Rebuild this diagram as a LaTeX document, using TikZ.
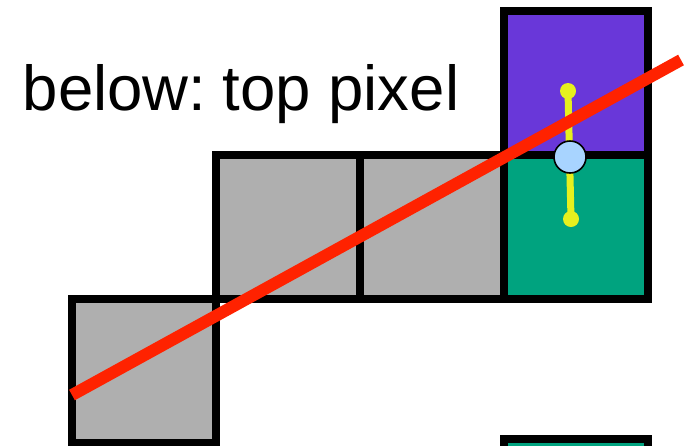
\documentclass[tikz,border=0pt]{standalone}
\usepackage{fontspec}
\setmainfont{Liberation Sans}
\definecolor{cellgray}{HTML}{AFAFAF}
\definecolor{cellgreen}{HTML}{00A37F}
\definecolor{cellpurple}{HTML}{6937D9}
\definecolor{rayred}{HTML}{FF2200}
\definecolor{segyellow}{HTML}{E6F01E}
\definecolor{hitblue}{HTML}{A8D4FF}
\tikzset{
  cell/.style={draw=black, line width=8pt, minimum width=144pt, minimum height=144pt, inner sep=0pt, outer sep=0pt},
  ray/.style={draw=rayred, line width=12pt},
  seg/.style={draw=segyellow, line width=7pt},
  segdot/.style={circle, fill=segyellow, minimum size=16pt, inner sep=0pt},
  hit/.style={circle, draw=black, line width=1.6pt, fill=hitblue, minimum size=32pt, inner sep=0pt},
}
\begin{document}
\begin{tikzpicture}[x=1pt,y=-1pt]
\useasboundingbox (0,0) rectangle (690,445);
\clip (0,0) rectangle (690,445);
\node[cell, fill=cellgray] (g1) at (144,371) {};
\node[cell, fill=cellgray] (g2) at (288,227) {};
\node[cell, fill=cellgray] (g3) at (432,227) {};
\node[cell, fill=cellgreen] (gr) at (576,227) {};
\node[cell, fill=cellpurple] (pu) at (576,83) {};
\node[cell, fill=cellgreen] (gb) at (576,510.5) {};
\node[anchor=base west, inner sep=0pt, font=\fontsize{63.5}{70}\selectfont] (lbl) at (22.5,110) {below:\hspace{0.26em}top pixel};
\node[segdot] (ytop) at (568,91) {};
\node[segdot] (ybot) at (571,219) {};
\draw[seg] (ytop.center) -- (ybot.center);
\coordinate (r0) at (72,395);
\coordinate (r1) at (681,60);
\draw[ray] (r0) -- (r1);
\node[hit] (hp) at (570,157) {};
\end{tikzpicture}
\end{document}
